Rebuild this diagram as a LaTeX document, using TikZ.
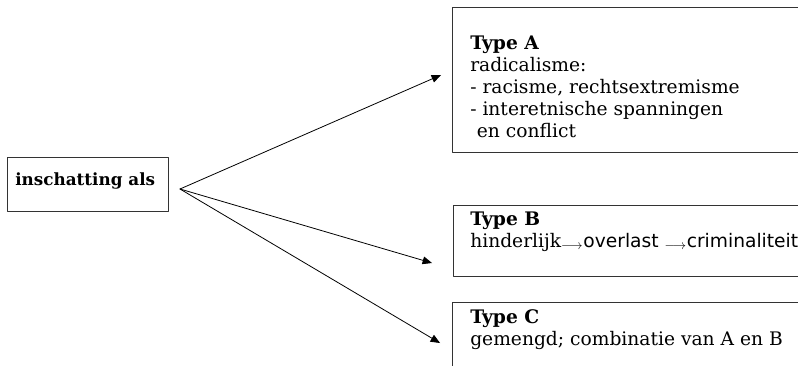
\documentclass[tikz,border=0pt]{standalone}
\usepackage{fontspec}
\setmainfont{DejaVu Serif}
\newfontfamily\labelsans{DejaVu Sans}
\usetikzlibrary{arrows}

\begin{document}
\begin{tikzpicture}[line cap=round,line join=round,>=triangle 45,x=0.75pt,y=-0.75pt,
    box/.style={draw=black!80,line width=0.8pt,inner sep=0pt,anchor=north west},
    boxtext/.style={anchor=base west,inner sep=0pt,align=left,font=\fontsize{14}{16.5}\selectfont}]
  \useasboundingbox (0,0) rectangle (798,365);
  \clip (0,0) rectangle (798,365);
  % kaders
  \node[box,minimum width=161*0.75pt,minimum height=54*0.75pt] (inschat) at (7,157) {};
  \node[box,minimum width=400*0.75pt,minimum height=145*0.75pt] (typeA) at (452,7) {};
  \node[box,minimum width=400*0.75pt,minimum height=71*0.75pt] (typeB) at (453,205) {};
  \node[box,minimum width=400*0.75pt,minimum height=100*0.75pt] (typeC) at (452,302) {};
  % teksten (anker op de basislijn van de laatste regel)
  \node[boxtext,font=\fontsize{12.6}{15}\selectfont] (inschatlabel) at (15,185) {\textbf{inschatting als}};
  \node[boxtext] (typeAlabel) at (470,137) {\textbf{Type A}\\radicalisme:\\- racisme, rechtsextremisme\\- interetnische spanningen\\\hspace{5pt}en conflict};
  \node[boxtext] (typeBlabel) at (470,247) {\textbf{Type B}\\hinderlijk$_{\longrightarrow}${\labelsans overlast} $_{\longrightarrow}${\labelsans criminaliteit}};
  \node[boxtext] (typeClabel) at (470,345) {\textbf{Type C}\\gemengd; combinatie van A en B};
  % pijlen
  \coordinate (fan) at (180,189);
  \coordinate (toA) at (441,75);
  \coordinate (toB) at (432,263);
  \coordinate (toC) at (440,343);
  \draw[line width=0.6pt,->] (fan) -- (toA);
  \draw[line width=0.6pt,->] (fan) -- (toB);
  \draw[line width=0.6pt,->] (fan) -- (toC);
\end{tikzpicture}
\end{document}
